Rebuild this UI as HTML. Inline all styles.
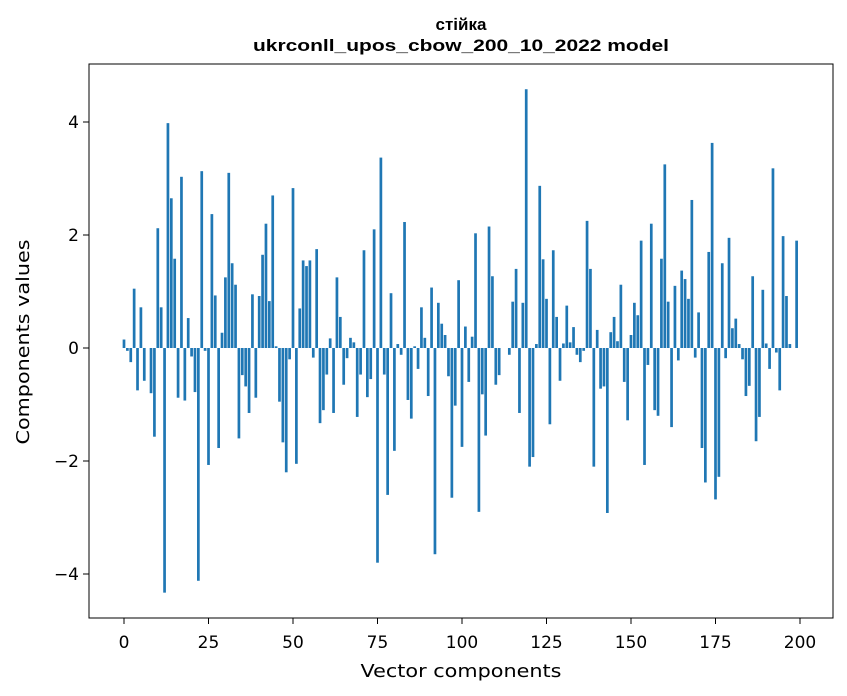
<!DOCTYPE html>
<html><head><meta charset="utf-8"><style>body{margin:0;background:#fff}svg{display:block;font-family:"DejaVu Sans","Liberation Sans",sans-serif}</style></head>
<body>
<svg id="chart" width="847" height="696">
<text x="461" y="30" text-anchor="middle" font-size="17" font-weight="bold" font-family="Liberation Sans, sans-serif">стійка</text>
<text x="461" y="51" text-anchor="middle" font-size="17" font-weight="bold" font-family="Liberation Sans, sans-serif" textLength="416" lengthAdjust="spacingAndGlyphs">ukrconll_upos_cbow_200_10_2022 model</text>
<g id="bars"></g>
<rect x="89" y="64" width="744" height="554" fill="none" stroke="#000" stroke-width="1"/>
<g id="xt"></g>
<g id="yt"></g>
<text x="461" y="677" text-anchor="middle" font-size="18" textLength="201" lengthAdjust="spacingAndGlyphs">Vector components</text>
<text transform="translate(29,342) rotate(-90)" text-anchor="middle" font-size="18" textLength="205" lengthAdjust="spacingAndGlyphs">Components values</text>
</svg>
<script>
const values=[0.15,-0.05,-0.25,1.05,-0.75,0.72,-0.58,0,-0.8,-1.57,2.12,0.72,-4.33,3.98,2.65,1.58,-0.88,3.03,-0.93,0.53,-0.15,-0.78,-4.12,3.13,-0.05,-2.07,2.37,0.93,-1.77,0.27,1.25,3.1,1.5,1.12,-1.6,-0.48,-0.68,-1.15,0.95,-0.88,0.92,1.65,2.2,0.83,2.7,0.03,-0.95,-1.67,-2.2,-0.2,2.83,-2.05,0.7,1.55,1.45,1.55,-0.17,1.75,-1.33,-1.1,-0.47,0.17,-1.15,1.25,0.55,-0.65,-0.18,0.18,0.1,-1.22,-0.47,1.73,-0.87,-0.55,2.1,-3.8,3.37,-0.47,-2.6,0.97,-1.82,0.07,-0.12,2.23,-0.92,-1.25,0.03,-0.37,0.72,0.18,-0.85,1.07,-3.65,0.8,0.43,0.23,-0.5,-2.65,-1.02,1.2,-1.75,0.38,-0.6,0.2,2.03,-2.9,-0.82,-1.55,2.15,1.27,-0.65,-0.48,0,0,-0.12,0.82,1.4,-1.15,0.8,4.58,-2.1,-1.93,0.07,2.87,1.57,0.87,-1.35,1.73,0.55,-0.58,0.08,0.75,0.1,0.37,-0.12,-0.25,-0.05,2.25,1.4,-2.1,0.32,-0.72,-0.68,-2.92,0.28,0.55,0.12,1.12,-0.6,-1.28,0.23,0.8,0.58,1.9,-2.07,-0.3,2.2,-1.1,-1.2,1.58,3.25,0.82,-1.4,1.1,-0.22,1.37,1.22,0.87,2.62,-0.17,0.63,-1.77,-2.38,1.7,3.63,-2.68,-2.28,1.5,-0.18,1.95,0.35,0.52,0.07,-0.2,-0.85,-0.67,1.27,-1.65,-1.22,1.03,0.08,-0.37,3.18,-0.08,-0.75,1.98,0.92,0.07,0,1.9];
const xTicks=[0,25,50,75,100,125,150,175,200];
const yTicks=[-4,-2,0,2,4];
const NS="http://www.w3.org/2000/svg";
const sx=i=>124+i*(676/200);
const sy=v=>348-v*56.5;
const bw=0.8*676/200;
const bars=document.getElementById('bars');
values.forEach((v,i)=>{
 const r=document.createElementNS(NS,'rect');
 r.setAttribute('x',sx(i)-bw/2);
 r.setAttribute('y',Math.min(sy(v),sy(0)));
 r.setAttribute('width',bw);
 r.setAttribute('height',Math.abs(sy(v)-sy(0)));
 r.setAttribute('fill','#1f77b4');
 
 
 bars.appendChild(r);
});
const xt=document.getElementById('xt');
xTicks.forEach(t=>{
 const l=document.createElementNS(NS,'line');
 l.setAttribute('x1',sx(t));l.setAttribute('x2',sx(t));l.setAttribute('y1',618);l.setAttribute('y2',624);l.setAttribute('stroke','#000');
 
 
 xt.appendChild(l);
 const tx=document.createElementNS(NS,'text');
 tx.setAttribute('x',sx(t));tx.setAttribute('y',648);tx.setAttribute('text-anchor','middle');tx.setAttribute('font-size','17');
 tx.textContent=t;
 
 
 xt.appendChild(tx);
});
const yt=document.getElementById('yt');
yTicks.forEach(t=>{
 const l=document.createElementNS(NS,'line');
 l.setAttribute('x1',83);l.setAttribute('x2',89);l.setAttribute('y1',sy(t));l.setAttribute('y2',sy(t));l.setAttribute('stroke','#000');
 
 
 yt.appendChild(l);
 const tx=document.createElementNS(NS,'text');
 tx.setAttribute('x',79);tx.setAttribute('y',sy(t)+6);tx.setAttribute('text-anchor','end');tx.setAttribute('font-size','17');
 tx.textContent=t<0?'\u2212'+Math.abs(t):t;
 
 
 yt.appendChild(tx);
});
</script>
</body></html>
